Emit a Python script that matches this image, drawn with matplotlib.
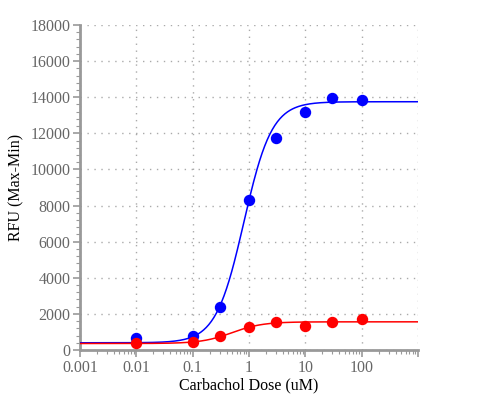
import matplotlib
matplotlib.use("Agg")
import matplotlib.pyplot as plt
import numpy as np
from matplotlib.ticker import FixedLocator, LogLocator, NullFormatter, MultipleLocator

plt.rcParams["font.family"] = ["Liberation Serif", "DejaVu Serif"]

DOSE = [0.01, 0.1, 0.3, 1, 3, 10, 30, 100]
BLUE_RFU = [650, 800, 2400, 8300, 11750, 13200, 13950, 13850]
RED_RFU = [400, 450, 750, 1250, 1550, 1350, 1550, 1700]

# 4PL fit parameters (bottom, top, EC50, hill)
BLUE_FIT = (400, 13750, 0.81, 1.75)
RED_FIT = (360, 1560, 0.5, 1.6)

XTICKS = [0.001, 0.01, 0.1, 1, 10, 100]
XTICK_LABELS = ["0.001", "0.01", "0.1", "1", "10", "100"]

GRAY = "#999999"
TICK_TEXT = "#666666"


def hill(x, bottom, top, ec50, h):
    return bottom + (top - bottom) / (1 + (ec50 / x) ** h)


fig = plt.figure(figsize=(5, 4), dpi=100)
ax = fig.add_axes([0.16, 0.125, 0.676, 0.8125])

xs = np.logspace(-3, 3, 400)
for data, fit, color in [(BLUE_RFU, BLUE_FIT, "#0000ff"), (RED_RFU, RED_FIT, "#ff0000")]:
    ax.plot(xs, hill(xs, *fit), color=color, lw=1.1, zorder=3)
    ax.plot(DOSE, data, "o", color=color, ms=7.2, zorder=4)

ax.set_xscale("log")
ax.set_xlim(0.001, 1000)
ax.set_ylim(0, 18000)
ax.xaxis.set_major_locator(FixedLocator(XTICKS + [1000]))
ax.set_xticklabels(XTICK_LABELS + [""])
ax.xaxis.set_minor_locator(LogLocator(base=10, subs=np.arange(2, 10)))
ax.xaxis.set_minor_formatter(NullFormatter())
ax.yaxis.set_major_locator(MultipleLocator(2000))
ax.yaxis.set_minor_locator(MultipleLocator(400))

ax.grid(True, which="major", color="#aaaaaa", ls=(0, (1, 4)), lw=1)
for s in ["top", "right"]:
    ax.spines[s].set_visible(False)
for s in ["left", "bottom"]:
    ax.spines[s].set_color(GRAY)
    ax.spines[s].set_linewidth(2)

ax.tick_params(which="major", length=5, width=1.2, color=GRAY, labelcolor=TICK_TEXT,
               labelsize=11.5, pad=2)
ax.tick_params(which="minor", length=3, width=0.8, color=GRAY)

ax.set_xlabel("Carbachol Dose (uM)", fontsize=11.5, labelpad=1)
ax.set_ylabel("RFU (Max-Min)", fontsize=11.5, labelpad=4)

fig.savefig("out.png", dpi=100)
